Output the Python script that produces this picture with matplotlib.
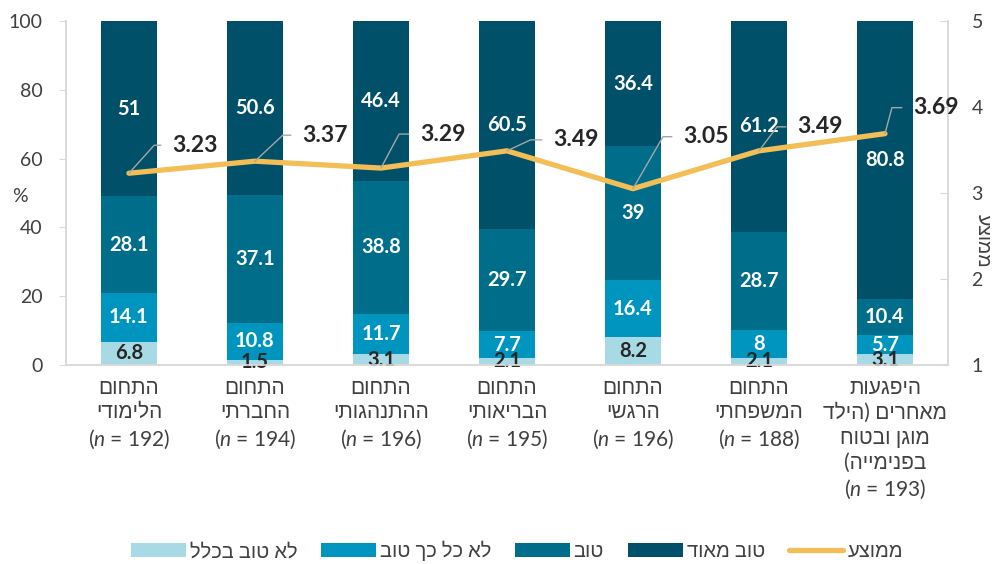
import matplotlib
matplotlib.use('Agg')
import matplotlib.pyplot as plt
import numpy as np

plt.rcParams['font.family'] = ['Lato', 'Liberation Sans', 'DejaVu Sans']
plt.rcParams['mathtext.fontset'] = 'custom'
plt.rcParams['mathtext.rm'] = 'Lato'
plt.rcParams['mathtext.it'] = 'Lato:italic'


def rtl(s):
    # matplotlib draws left to right, so flip Hebrew lines and mirror brackets
    return s[::-1].translate(str.maketrans('()', ')('))


# ---- data ----
categories = ["התחום\nהלימודי", "התחום\nהחברתי", "התחום\nההתנהגותי", "התחום\nהבריאותי",
              "התחום\nהרגשי", "התחום\nהמשפחתי", "היפגעות\nמאחרים (הילד\nמוגן ובטוח\nבפנימייה)"]
n_sizes = [192, 194, 196, 195, 196, 188, 193]

not_good_at_all = [6.8, 1.5, 3.1, 2.1, 8.2, 2.1, 3.1]
not_so_good = [14.1, 10.8, 11.7, 7.7, 16.4, 8, 5.7]
good = [28.1, 37.1, 38.8, 29.7, 39, 28.7, 10.4]
very_good = [51, 50.6, 46.4, 60.5, 36.4, 61.2, 80.8]
averages = [3.23, 3.37, 3.29, 3.49, 3.05, 3.49, 3.69]

series_names = ["לא טוב בכלל", "לא כל כך טוב", "טוב", "טוב מאוד"]
avg_name = "ממוצע"

# ---- style ----
colors = ['#A8DAE6', '#0095BF', '#006E8B', '#00506A']
label_colors = ['#262626', 'white', 'white', 'white']
line_color = '#F2BE55'
grey = '#D9D9D9'
text_color = '#404040'
# text offset of each average label from its point (pixels) and leader angle
avg_offsets = [(43, 28, 48), (47, 26, 43), (39, 34, 62), (46, 11, 25),
               (50, 52, 60), (38, 24, 53), (28, 26, 75)]

fig = plt.figure(figsize=(10.04, 5.64), dpi=100)
ax = fig.add_axes([0.0657, 0.3528, 0.8785, 0.61])
ax2 = ax.twinx()

x = np.arange(len(categories))
bottom = np.zeros(len(categories))
for vals, name, c, lc in zip([not_good_at_all, not_so_good, good, very_good],
                             series_names, colors, label_colors):
    vals = np.array(vals, dtype=float)
    bars = ax.bar(x, vals, 0.45, bottom=bottom, color=c, label=rtl(name), zorder=2)
    ax.bar_label(bars, labels=[f"{v:g}" for v in vals], label_type='center',
                 color=lc, fontsize=14.5, fontweight='bold')
    bottom += vals

ax2.plot(x, averages, color=line_color, lw=3.8, solid_capstyle='round',
         solid_joinstyle='round', label=rtl(avg_name), zorder=3)
for xi, v, (dx, dy, ang) in zip(x, averages, avg_offsets):
    ax2.annotate(f"{v:.2f}", xy=(xi, v), xytext=(dx, dy), textcoords='offset pixels',
                 ha='left', va='center', fontsize=16.5, fontweight='bold', color='#262626',
                 arrowprops=dict(arrowstyle='-', color='#A6A6A6', lw=1,
                                 connectionstyle=f"angle,angleA=0,angleB={ang},rad=0",
                                 relpos=(0, 0.5), shrinkA=6, shrinkB=0))

ax.set_xlim(-0.5, len(categories) - 0.5)
ax.set_ylim(0, 100)
ax2.set_ylim(1, 5)
ax.set_yticks(range(0, 101, 20))
ax2.set_yticks(range(1, 6))

xlabels = []
for cat, n in zip(categories, n_sizes):
    lines = [rtl(l) for l in cat.split('\n')]
    lines.append(f"($\\mathit{{n}}$ = {n})")
    xlabels.append('\n'.join(lines))
ax.set_xticks(x)
ax.set_xticklabels(xlabels, fontsize=15, color=text_color, linespacing=1.3)
ax.tick_params(axis='x', length=0, pad=9)
ax.tick_params(axis='y', length=5, color=grey, labelsize=14, labelcolor=text_color, pad=12)
ax2.tick_params(axis='y', direction='in', length=6, color=grey, labelsize=14,
                labelcolor=text_color, pad=17)

for a in (ax, ax2):
    a.spines['top'].set_visible(False)
    for s in ('left', 'right', 'bottom'):
        a.spines[s].set_color(grey)
        a.spines[s].set_linewidth(1.2)

ax.set_ylabel('%', rotation=0, fontsize=14, color=text_color, ha='center', va='center')
ax.yaxis.set_label_coords(-0.052, 0.49)
ax2.set_ylabel(rtl(avg_name), rotation=270, fontsize=14, color=text_color,
               ha='center', va='center')
ax2.yaxis.set_label_coords(1.04, 0.36)

h1, l1 = ax.get_legend_handles_labels()
h2, l2 = ax2.get_legend_handles_labels()
fig.legend(h1 + h2, l1 + l2, loc='center', bbox_to_anchor=(0.515, 0.023), ncol=5,
           frameon=False, fontsize=14.5, labelcolor=text_color, handlelength=2.7,
           handleheight=0.7, handletextpad=0.2, columnspacing=1.2)

fig.savefig('out.png', dpi=100)
